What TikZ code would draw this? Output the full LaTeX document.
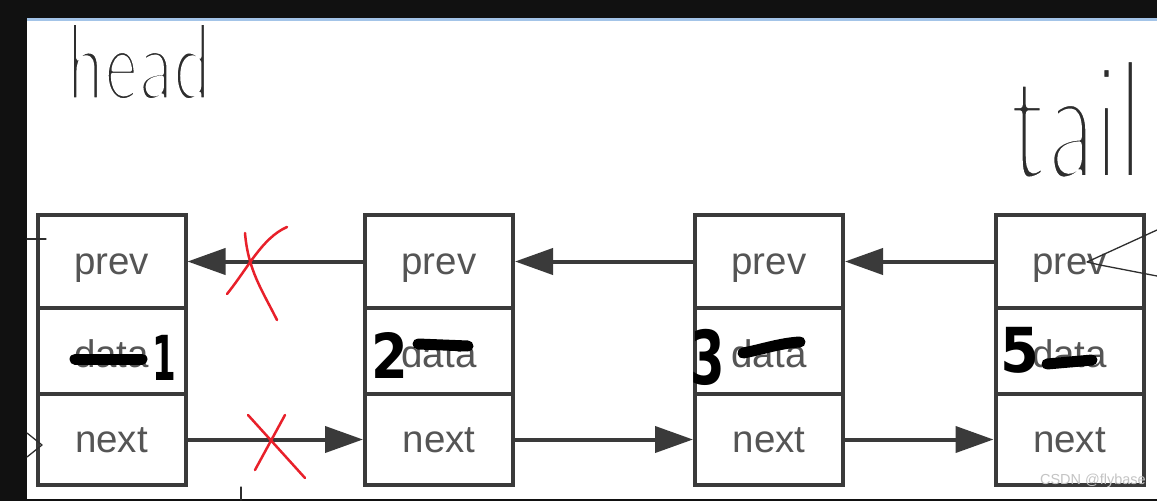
\documentclass[tikz,border=0pt]{standalone}
\usepackage{fontspec}
\setmainfont{Liberation Sans}
\newfontfamily\digitfont{DejaVu Sans}
\usetikzlibrary{arrows.meta}
\definecolor{boxgray}{HTML}{3A3A3A}
\definecolor{txtgray}{HTML}{555555}
\definecolor{xred}{HTML}{E8202A}
\definecolor{topblue}{HTML}{A3C4E8}
\definecolor{frameblk}{HTML}{111111}
\definecolor{inkgray}{HTML}{2E2E2E}
\definecolor{wmgray}{HTML}{C4C4C4}
\newcommand{\thinpen}[1]{\special{pdf:literal direct q 2 Tr 3.2 w 1 1 1 RG 1 j}#1\special{pdf:literal direct Q}}
\begin{document}
\begin{tikzpicture}[x=1pt,y=-1pt,
  cell/.style={draw=boxgray,line width=4pt,minimum width=148pt,inner sep=0pt,
    font=\fontsize{38.5}{38.5}\selectfont,text=txtgray,text height=27.8pt,text depth=2.8pt},
  prevcell/.style={cell,minimum height=93pt},
  datacell/.style={cell,minimum height=86pt,text height=34.8pt},
  nextcell/.style={cell,minimum height=91pt},
  link/.style={draw=boxgray,line width=4pt,-{Triangle[length=38pt,width=26pt]}},
  cross/.style={draw=xred,line width=2.5pt,line cap=round},
  pen/.style={draw=inkgray,line width=1.3pt,line cap=round,line join=round},
  strikeline/.style={draw=black,line width=11pt,line cap=round},
  marker/.style={font=\digitfont\bfseries\fontsize{62}{62}\selectfont,text=black,inner sep=0pt},
  hand/.style={font=\sffamily\fontsize{72}{72}\selectfont,text=inkgray,inner sep=0pt}
]
\useasboundingbox (0,0) rectangle (1157,501);
\fill[white] (0,0) rectangle (1157,501);

% handwriting labels
\node[hand,anchor=south west,yscale=1.55,xscale=1.1] (head) at (66,101) {\thinpen{head}};
\node[hand,anchor=south west,yscale=2.42,xscale=1.48] (tail) at (1010,181) {\thinpen{tail}};

% frame
\fill[frameblk] (0,0) rectangle (1157,18);
\fill[topblue] (27,18) rectangle (1157,21);
\fill[frameblk] (0,0) rectangle (27,501);
\fill[frameblk] (0,499) rectangle (1157,501);

% boxes
\foreach \i/\cx in {1/111.5,2/439,3/769,4/1069.5}{
  \node[prevcell] (p\i) at (\cx,261.5) {prev};
  \node[datacell] (d\i) at (\cx,351) {data};
  \node[nextcell] (n\i) at (\cx,439.5) {next};
}

% links
\draw[link] (p2.west) -- (p1.east);
\draw[link] (p3.west) -- (p2.east);
\draw[link] (p4.west) -- (p3.east);
\draw[link] (n1.east) -- (n2.west);
\draw[link] (n2.east) -- (n3.west);
\draw[link] (n3.east) -- (n4.west);

% red crosses
\draw[cross] (227,294) .. controls (248,268) and (262,238) .. (287,227);
\draw[cross] (245,233) .. controls (248,270) and (262,290) .. (277,320);
\draw[cross] (248,415) -- (305,478);
\draw[cross] (285,415) -- (255,470);

% strike-outs of data
\draw[strikeline] (75,359) -- (142,359);
\draw[strikeline] (418,344) -- (468,346);
\draw[strikeline] (743,353) .. controls (760,350) and (780,343) .. (800,342);
\draw[strikeline] (1047,364) -- (1092,360);

% handwritten values
\node[marker,xscale=0.55] (v1) at (164,358) {1};
\node[marker,xscale=0.85] (v2) at (390,355) {2};
\node[marker,xscale=0.8,yscale=1.2] (v3) at (708,357) {3};
\node[marker,xscale=0.9] (v4) at (1020,350) {5};

% stray pen marks
\draw[pen] (27,239) -- (46,239);
\draw[pen] (27,433) -- (42,445) -- (27,457);
\draw[pen] (241,487) -- (241,500);
\draw[pen] (1157,230) -- (1087,262) -- (1100,265) -- (1157,276);

% watermark
\node[font=\fontsize{14.5}{14.5}\selectfont,text=wmgray,anchor=base east,inner sep=0pt] (wm) at (1146,484) {CSDN @flybase};
\end{tikzpicture}
\end{document}
